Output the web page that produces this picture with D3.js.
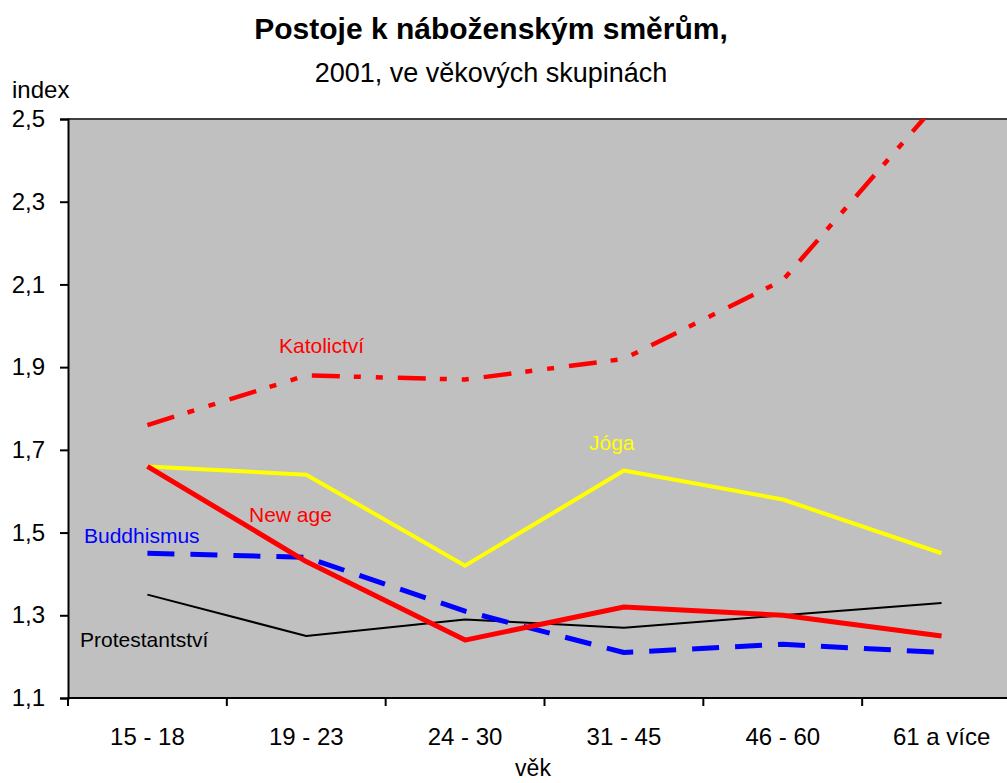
<!DOCTYPE html>
<html>
<head>
<meta charset="utf-8">
<script src="https://cdn.jsdelivr.net/npm/d3@7"></script>
<style>
  body { margin: 0; background: #fff; }
  svg { display: block; font-family: "Liberation Sans", Arial, sans-serif; }
</style>
</head>
<body>
<svg id="chart" width="1007" height="783"></svg>
<script>
// data
var categories = ["15 - 18", "19 - 23", "24 - 30", "31 - 45", "46 - 60", "61 a více"];
var yTicks = [1.1, 1.3, 1.5, 1.7, 1.9, 2.1, 2.3, 2.5];
var katolictvi = [1.76, 1.88, 1.87, 1.92, 2.11, 2.55];
var joga = [1.66, 1.64, 1.42, 1.65, 1.58, 1.45];
var newAge = [1.66, 1.43, 1.24, 1.32, 1.30, 1.25];
var buddhismus = [1.45, 1.44, 1.31, 1.21, 1.23, 1.21];
var protestantstvi = [1.35, 1.25, 1.29, 1.27, 1.30, 1.33];

var series = [
  { name: "Protestantství", values: protestantstvi, color: "#000", width: 2, dash: null, lx: 80, ly: 647 },
  { name: "Buddhismus", values: buddhismus, color: "#0000ff", width: 5, dash: "27,16", lx: 84, ly: 543 },
  { name: "Jóga", values: joga, color: "#ffff00", width: 4, dash: null, lx: 589, ly: 450 },
  { name: "New age", values: newAge, color: "#ff0000", width: 5, dash: null, lx: 249, ly: 522 },
  { name: "Katolictví", values: katolictvi, color: "#ff0000", width: 4.5, dash: "28,14,7,15,7,15", lx: 279, ly: 353 }
];

(function() {
  var svg = d3.select("#chart");
  var plotLeft = 68, plotTop = 119, plotBottom = 698, plotRight = 1021;

  var x = d3.scaleBand().domain(categories).range([plotLeft, plotRight]);
  var y = d3.scaleLinear().domain([1.1, 2.5]).range([plotBottom, plotTop]);

  svg.append("defs").append("clipPath").attr("id", "plotclip")
    .append("rect").attr("x", plotLeft).attr("y", plotTop)
    .attr("width", plotRight - plotLeft).attr("height", plotBottom - plotTop);

  // plot area
  svg.append("rect")
    .attr("x", plotLeft).attr("y", plotTop)
    .attr("width", plotRight - plotLeft).attr("height", plotBottom - plotTop)
    .attr("fill", "#c0c0c0");
  svg.append("line")
    .attr("x1", plotLeft).attr("x2", plotRight).attr("y1", plotTop).attr("y2", plotTop)
    .attr("stroke", "#404040").attr("stroke-width", 2);

  // lines
  var line = d3.line()
    .x(function(d, i) { return x(categories[i]) + x.bandwidth() / 2; })
    .y(function(d) { return y(d); });

  var g = svg.append("g").attr("clip-path", "url(#plotclip)");
  g.selectAll("path.series").data(series).enter().append("path")
    .attr("class", "series")
    .attr("d", function(d) { return line(d.values); })
    .attr("fill", "none")
    .attr("stroke", function(d) { return d.color; })
    .attr("stroke-width", function(d) { return d.width; })
    .attr("stroke-dasharray", function(d) { return d.dash; })
    .attr("stroke-linejoin", "round");

  // series labels
  svg.selectAll("text.lbl").data(series).enter().append("text")
    .attr("class", "lbl")
    .attr("x", function(d) { return d.lx; })
    .attr("y", function(d) { return d.ly; })
    .attr("fill", function(d) { return d.color; })
    .style("font-size", "21px")
    .text(function(d) { return d.name; });

  // y axis
  var yAxis = svg.append("g")
    .attr("transform", "translate(" + plotLeft + ",0)")
    .call(d3.axisLeft(y).tickValues(yTicks).tickSize(8).tickPadding(15)
      .tickFormat(function(d) { return d3.format(".1f")(d).replace(".", ","); }));
  yAxis.select(".domain").attr("stroke", "#000").attr("stroke-width", 2);
  yAxis.selectAll(".tick line").attr("stroke", "#000").attr("stroke-width", 2);
  yAxis.selectAll("text").style("font-size", "24px").attr("fill", "#000");

  // x axis
  var xAxis = svg.append("g")
    .attr("transform", "translate(0," + plotBottom + ")")
    .call(d3.axisBottom(x).tickSize(0).tickPadding(30));
  xAxis.select(".domain").remove();
  xAxis.selectAll("text").style("font-size", "24px").attr("fill", "#000");
  svg.append("line")
    .attr("x1", plotLeft).attr("x2", plotRight).attr("y1", plotBottom).attr("y2", plotBottom)
    .attr("stroke", "#000").attr("stroke-width", 2);
  svg.selectAll("line.xtick").data(categories).enter().append("line")
    .attr("class", "xtick")
    .attr("x1", function(d) { return x(d); }).attr("x2", function(d) { return x(d); })
    .attr("y1", plotBottom).attr("y2", plotBottom + 8)
    .attr("stroke", "#000").attr("stroke-width", 2);

  // titles
  svg.append("text").attr("x", 491).attr("y", 39).attr("text-anchor", "middle")
    .style("font-size", "30px").style("font-weight", "bold")
    .text("Postoje k náboženským směrům,");
  svg.append("text").attr("x", 491).attr("y", 82).attr("text-anchor", "middle")
    .style("font-size", "27px")
    .text("2001, ve věkových skupinách");
  svg.append("text").attr("x", 12).attr("y", 98)
    .style("font-size", "24px").text("index");
  svg.append("text").attr("x", 533).attr("y", 776).attr("text-anchor", "middle")
    .style("font-size", "23px").text("věk");
})();
</script>
</body>
</html>
